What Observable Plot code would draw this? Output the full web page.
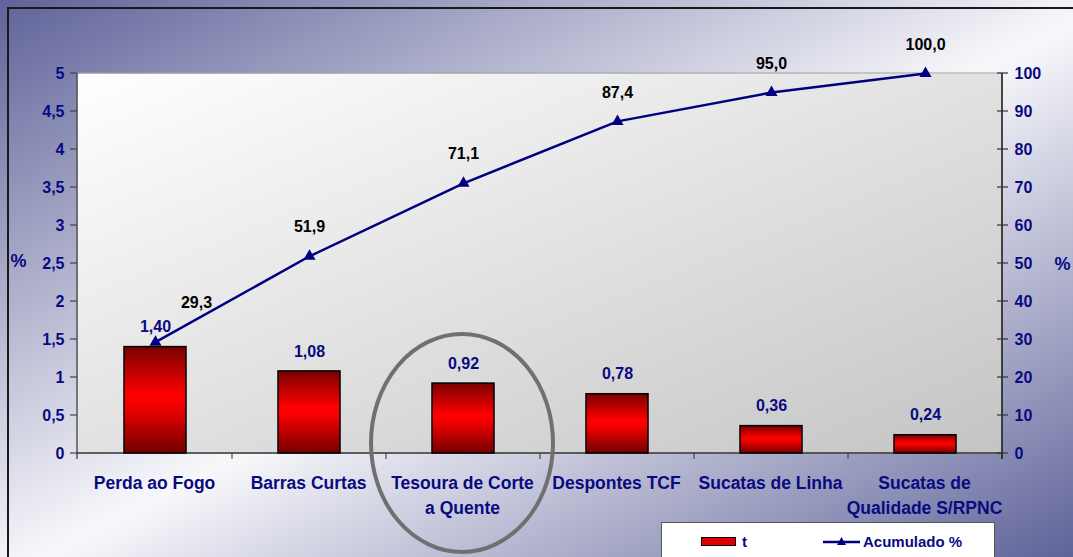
<!DOCTYPE html>
<html>
<head>
<meta charset="utf-8">
<script src="https://cdn.jsdelivr.net/npm/d3@7"></script>
<script src="https://cdn.jsdelivr.net/npm/@observablehq/plot@0.6"></script>
<style>
  html, body { margin: 0; padding: 0; }
  #wrap {
    position: relative; width: 1073px; height: 557px; overflow: hidden;
    background: linear-gradient(to bottom right, #5f6399 0%, #f8f8fb 52%, #5f6399 100%);
    font-family: "Liberation Sans", Arial, sans-serif;
  }
  #border { position: absolute; left: 7px; top: 7px; width: 1200px; height: 700px; border: 2px solid #1a1a1a; box-sizing: border-box; }
  #chart { position: absolute; left: 0; top: 0; }
  #legend {
    position: absolute; left: 661px; top: 522px; width: 334px; height: 60px;
    background: #fff; border: 1px solid #555; box-sizing: border-box;
    font-weight: bold; font-size: 15px; color: #0a0a80;
  }
  .sw { position: absolute; left: 39px; top: 14px; width: 35px; height: 9px; background: #e00000; border: 1px solid #000; box-sizing: border-box; }
  .lt { position: absolute; top: 10px; line-height: 17px; }
</style>
</head>
<body>
<div id="wrap">
  <div id="border"></div>
  <div id="chart"></div>
  <div id="legend">
    <div class="sw"></div>
    <div class="lt" style="left:80px">t</div>
    <svg style="position:absolute;left:160px;top:12px" width="40" height="14">
      <line x1="1" x2="38" y1="7" y2="7" stroke="#000080" stroke-width="2.5"></line>
      <path d="M19.5,2 L24,10 L15,10 Z" fill="#000080"></path>
    </svg>
    <div class="lt" style="left:201px">Acumulado %</div>
  </div>
</div>
<script>
// ---- data ----
const categories = ["Perda ao Fogo", "Barras Curtas", "Tesoura de Corte\na Quente", "Despontes TCF", "Sucatas de Linha", "Sucatas de\nQualidade S/RPNC"];
const tValues = [1.40, 1.08, 0.92, 0.78, 0.36, 0.24];
const cumValues = [29.3, 51.9, 71.1, 87.4, 95.0, 100.0];
const leftTicks = [0, 0.5, 1, 1.5, 2, 2.5, 3, 3.5, 4, 4.5, 5];
const rightTicks = [0, 10, 20, 30, 40, 50, 60, 70, 80, 90, 100];
const highlighted = "Tesoura de Corte\na Quente";

const rows = categories.map((c, i) => ({cat: c, t: tValues[i], cum: cumValues[i]}));
const ratio = 100 / 5; // right axis (0-100) over left axis (0-5)
const navy = "#0a0a80";
const comma = (v, n) => v.toFixed(n).replace(".", ",");

function bandw(x, dims) {
  const xl = dims.marginLeft, xr = dims.width - dims.marginRight;
  return x.bandwidth ? x.bandwidth() : (xr - xl) / categories.length;
}

function decorations(index, scales, values, dims) {
  const x = scales.x, y = scales.y;
  const g = d3.create("svg:g");
  const xl = dims.marginLeft, xr = dims.width - dims.marginRight;
  const bw = bandw(x, dims);
  const y0 = y(0), yTop = y(5);
  g.append("line").attr("x1", xl).attr("x2", xr).attr("y1", yTop).attr("y2", yTop).attr("stroke", "#a0a0a0");
  g.append("line").attr("x1", xl).attr("x2", xl).attr("y1", yTop).attr("y2", y0 + 6).attr("stroke", "#555").attr("stroke-width", 1.5);
  g.append("line").attr("x1", xr).attr("x2", xr).attr("y1", yTop).attr("y2", y0 + 6).attr("stroke", "#111").attr("stroke-width", 1.5);
  g.append("line").attr("x1", xl).attr("x2", xr).attr("y1", y0).attr("y2", y0).attr("stroke", "#333").attr("stroke-width", 1.5);
  for (const c of categories) {
    const bx = x(c) + bw;
    g.append("line").attr("x1", bx).attr("x2", bx).attr("y1", y0).attr("y2", y0 + 6).attr("stroke", "#333");
  }
  for (const v of leftTicks) {
    const ty = y(v);
    g.append("line").attr("x1", xl - 7).attr("x2", xl).attr("y1", ty).attr("y2", ty).attr("stroke", "#444").attr("stroke-width", 1.2);
  }
  for (const v of rightTicks) {
    const ty = y(v / ratio);
    g.append("line").attr("x1", xr - 5).attr("x2", xr + 6).attr("y1", ty).attr("y2", ty).attr("stroke", "#333").attr("stroke-width", 1.2);
  }
  return g.node();
}

function highlight(index, scales, values, dims) {
  const x = scales.x, y = scales.y;
  const bw = bandw(x, dims);
  return d3.create("svg:ellipse")
    .attr("cx", x(highlighted) + bw / 2 - 1)
    .attr("cy", y(0) - 10)
    .attr("rx", 91).attr("ry", 109)
    .attr("fill", "none").attr("stroke", "#707070").attr("stroke-width", 4)
    .node();
}

const chart = Plot.plot({
  width: 1073, height: 557,
  marginLeft: 77, marginRight: 71, marginTop: 73, marginBottom: 104,
  style: {background: "transparent", fontFamily: "Liberation Sans, Arial, sans-serif", fontWeight: "bold", overflow: "visible"},
  x: {type: "band", domain: categories, padding: 0, axis: null},
  y: {domain: [0, 5], axis: null},
  marks: [
    Plot.frame({fill: "url(#plotGrad)", stroke: "none"}),
    decorations,
    // left axis labels
    Plot.text(leftTicks, {y: d => d, text: d => String(d).replace(".", ","), frameAnchor: "left", dx: -13, textAnchor: "end", fill: navy, fontSize: 16, fontWeight: "bold"}),
    // right axis labels (cumulative %)
    Plot.text(rightTicks, {y: d => d / ratio, text: d => String(d), frameAnchor: "right", dx: 12, textAnchor: "start", fill: navy, fontSize: 16, fontWeight: "bold"}),
    // category labels
    Plot.text(categories, {x: d => d, text: d => d, frameAnchor: "bottom", lineAnchor: "top", dy: 17, dx: -1, lineHeight: 1.45, fill: navy, fontSize: 17.5, fontWeight: "bold"}),
    Plot.barY(rows, {x: "cat", y: "t", fill: "url(#barGrad)", stroke: "#000", strokeWidth: 1.5, insetLeft: 46, insetRight: 46}),
    Plot.text(rows, {x: "cat", y: "t", text: d => comma(d.t, 2), dy: -20, fill: navy, fontSize: 16, fontWeight: "bold"}),
    Plot.line(rows, {x: "cat", y: d => d.cum / ratio, stroke: "#000080", strokeWidth: 2.5}),
    Plot.dot(rows, {x: "cat", y: d => d.cum / ratio, symbol: "triangle", r: 4.5, fill: "#000080", stroke: "none"}),
    Plot.text(rows, {filter: (d, i) => i === 0, x: "cat", y: d => d.cum / ratio, text: d => comma(d.cum, 1), dx: 41, dy: -39, fill: "#000", fontSize: 16, fontWeight: "bold"}),
    Plot.text(rows, {filter: (d, i) => i > 0, x: "cat", y: d => d.cum / ratio, text: d => comma(d.cum, 1), dy: -29, fill: "#000", fontSize: 16, fontWeight: "bold"}),
    Plot.text(["%"], {frameAnchor: "left", dx: -67, dy: -2, fill: navy, fontSize: 18, fontWeight: "bold"}),
    Plot.text(["%"], {frameAnchor: "right", dx: 68, dy: 1, fill: navy, fontSize: 18, fontWeight: "bold"}),
    highlight
  ]
});

const defs = d3.select(chart).insert("defs", ":first-child");
const pg = defs.append("linearGradient").attr("id", "plotGrad").attr("x1", 0).attr("y1", 0).attr("x2", 1).attr("y2", 1);
pg.append("stop").attr("offset", "0%").attr("stop-color", "#ffffff");
pg.append("stop").attr("offset", "100%").attr("stop-color", "#c4c4c4");
const bg = defs.append("linearGradient").attr("id", "barGrad").attr("x1", 0).attr("y1", 0).attr("x2", 0).attr("y2", 1);
bg.append("stop").attr("offset", "0%").attr("stop-color", "#7a0000");
bg.append("stop").attr("offset", "45%").attr("stop-color", "#ff0000");
bg.append("stop").attr("offset", "55%").attr("stop-color", "#f50000");
bg.append("stop").attr("offset", "100%").attr("stop-color", "#720000");

document.getElementById("chart").appendChild(chart);
</script>
</body>
</html>
